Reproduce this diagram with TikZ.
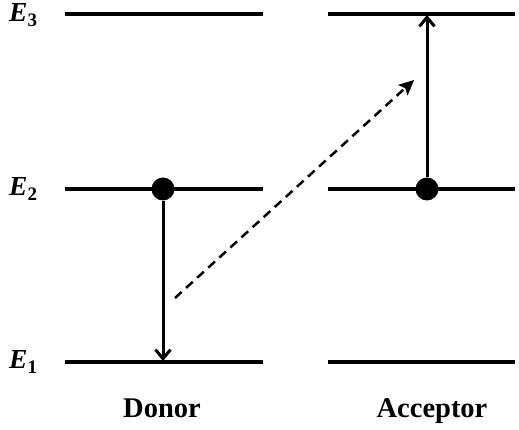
\documentclass[tikz,border=0pt]{standalone}
\usepackage{fontspec}
\setmainfont{Liberation Serif}
\usetikzlibrary{arrows.meta}
\newcommand{\lvl}[1]{{\fontsize{27.5}{27.5}\selectfont\bfseries\itshape E}\raisebox{-5pt}{\fontsize{19}{19}\selectfont\bfseries #1}}
\begin{document}
\begin{tikzpicture}[x=1pt,y=-1pt,
  lvline/.style={line width=4pt},
  elab/.style={anchor=base west, inner sep=0pt},
  sidelab/.style={anchor=base, inner sep=0pt, font=\fontsize{28.5}{28.5}\selectfont\bfseries},
  dot/.style={circle, fill=black, minimum size=23pt, inner sep=0pt},
  trans/.style={line width=3pt, -{Straight Barb[length=9pt,width=15pt,line width=3pt]}},
  transfer/.style={line width=2.5pt, dash pattern=on 9pt off 6pt, -{Stealth[length=15pt,width=14pt,inset=3pt]}}]
\useasboundingbox (0,0) rectangle (519,430);
% energy levels
\coordinate (dA) at (65,14);  \coordinate (dB) at (263,14);
\coordinate (dC) at (65,189); \coordinate (dD) at (263,189);
\coordinate (dE) at (65,362); \coordinate (dF) at (263,362);
\coordinate (aA) at (328,14);  \coordinate (aB) at (515,14);
\coordinate (aC) at (328,189); \coordinate (aD) at (515,189);
\coordinate (aE) at (328,362); \coordinate (aF) at (515,362);
\draw[lvline] (dA) -- (dB);
\draw[lvline] (dC) -- (dD);
\draw[lvline] (dE) -- (dF);
\draw[lvline] (aA) -- (aB);
\draw[lvline] (aC) -- (aD);
\draw[lvline] (aE) -- (aF);
% labels
\node[elab] (e3) at (9,21.5) {\lvl{3}};
\node[elab] (e2) at (9,196) {\lvl{2}};
\node[elab] (e1) at (9,368) {\lvl{1}};
\node[sidelab] (don) at (162,417) {Donor};
\node[sidelab] (acc) at (432,417) {Acceptor};
% electrons
\node[dot] (ddot) at (163,189) {};
\node[dot] (adot) at (427,189) {};
\coordinate (dend) at (163,361);
\coordinate (aend) at (427,15);
\draw[trans] (ddot.south) -- (dend);
\draw[trans] (adot.north) -- (aend);
% energy transfer
\coordinate (ts) at (175,298);
\coordinate (te) at (414,80);
\draw[transfer] (ts) -- (te);
\end{tikzpicture}
\end{document}
